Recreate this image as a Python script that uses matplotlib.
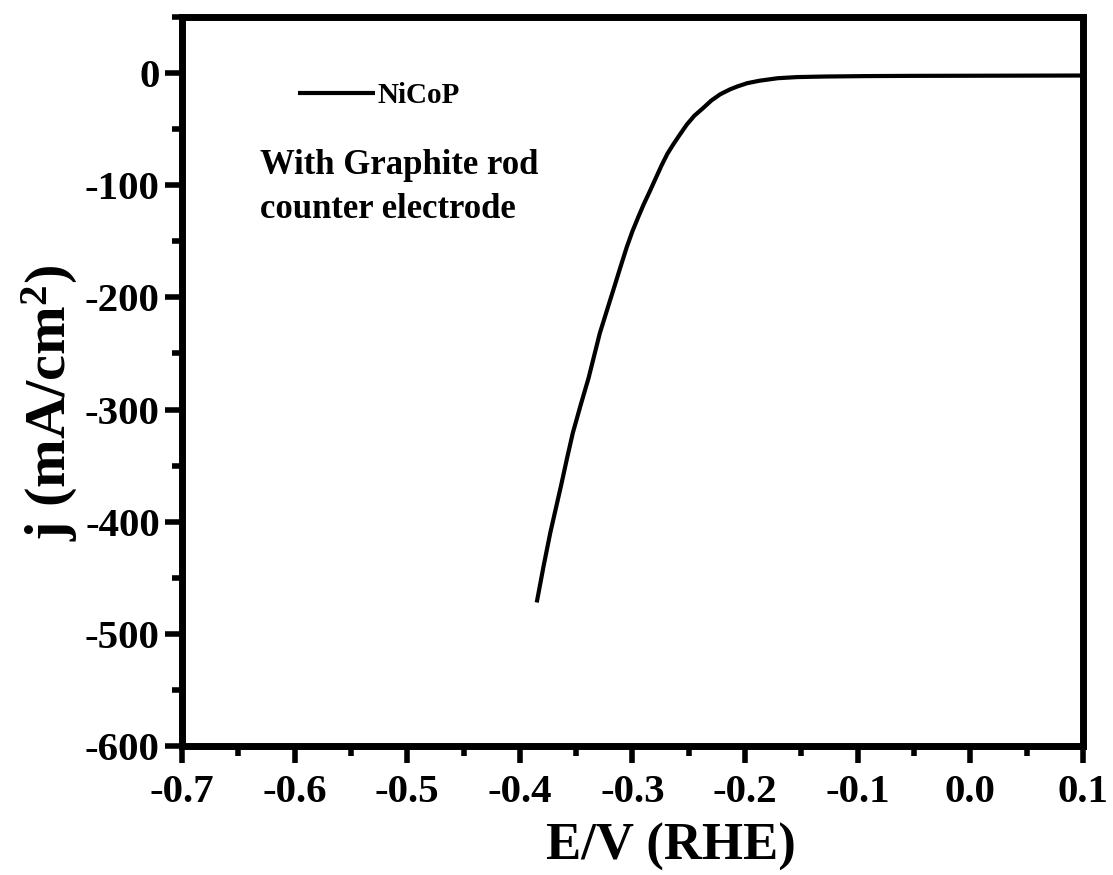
import matplotlib
matplotlib.use("Agg")
import matplotlib.pyplot as plt
from matplotlib.ticker import MultipleLocator, FormatStrFormatter

# LSV polarization curve of NiCoP (graphite rod counter electrode)
potential = [-0.385, -0.379, -0.373, -0.368, -0.363, -0.358, -0.353, -0.346,
             -0.339, -0.334, -0.329, -0.320, -0.315, -0.311, -0.305, -0.300,
             -0.2947, -0.290, -0.2844, -0.279, -0.274, -0.269, -0.2637, -0.258,
             -0.2518, -0.245, -0.237, -0.230, -0.2222, -0.2133, -0.207, -0.198,
             -0.187, -0.171, -0.154, -0.130, -0.092, -0.050, 0.000, 0.050, 0.100]
current = [-472, -440, -410, -388, -366, -343, -321, -296,
           -272, -252, -232, -203, -187, -174, -155, -141,
           -128, -117, -105, -93, -82, -72, -63.5, -55,
           -46, -38, -31, -24.5, -19, -14.5, -12, -9,
           -6.8, -4.6, -3.6, -3.1, -2.7, -2.5, -2.4, -2.3, -2.2]

series_name = "NiCoP"
note = "With Graphite rod\ncounter electrode"
x_label = "E/V (RHE)"
y_label = r"j (mA/cm$^{\mathbf{2}}$)"

plt.rcParams["font.family"] = ["Liberation Serif", "DejaVu Serif"]
plt.rcParams["font.weight"] = "bold"
plt.rcParams["axes.unicode_minus"] = False
plt.rcParams["mathtext.fontset"] = "custom"
plt.rcParams["mathtext.rm"] = "Liberation Serif:bold"
plt.rcParams["mathtext.bf"] = "Liberation Serif:bold"
plt.rcParams["mathtext.it"] = "Liberation Serif:bold"

fig = plt.figure(figsize=(11.13, 8.75), dpi=100)
ax = fig.add_axes([0.1635, 0.1474, 0.8095, 0.8332])

ax.plot(potential, current, color="black", lw=3.0, label=series_name,
        solid_joinstyle="round", solid_capstyle="butt")

ax.set_xlim(-0.7, 0.1)
ax.set_ylim(-600, 50)
ax.xaxis.set_major_locator(MultipleLocator(0.1))
ax.xaxis.set_minor_locator(MultipleLocator(0.05))
ax.yaxis.set_major_locator(MultipleLocator(100))
ax.yaxis.set_minor_locator(MultipleLocator(50))
ax.xaxis.set_major_formatter(FormatStrFormatter("%.1f"))

for side in ax.spines.values():
    side.set_linewidth(5.0)
ax.tick_params(which="both", direction="out", top=False, right=False,
               width=4.0, labelsize=29.5)
ax.tick_params(axis="x", which="both", pad=8)
ax.tick_params(axis="y", which="both", pad=4)
ax.tick_params(which="major", length=12)
ax.tick_params(which="minor", length=7)
for lab in ax.get_xticklabels() + ax.get_yticklabels():
    lab.set_fontweight("bold")

ax.set_xlabel(x_label, fontsize=38, fontweight="bold")
ax.set_ylabel(y_label, fontsize=42, fontweight="bold")
ax.xaxis.set_label_coords(0.543, -0.1564)
ax.xaxis.label.set_verticalalignment("baseline")
ax.yaxis.set_label_coords(-0.1287, 0.4705)
ax.yaxis.label.set_verticalalignment("baseline")

ax.legend(loc="center left", bbox_to_anchor=(0.1287, 0.892), frameon=False,
          borderpad=0, borderaxespad=0, handlelength=2.64, handletextpad=0.1,
          prop={"size": 21, "weight": "bold"})

ax.text(0.0866, 0.819, note, transform=ax.transAxes, ha="left", va="top",
        fontsize=25, fontweight="bold", linespacing=1.45)

fig.savefig("out.png", dpi=100)
